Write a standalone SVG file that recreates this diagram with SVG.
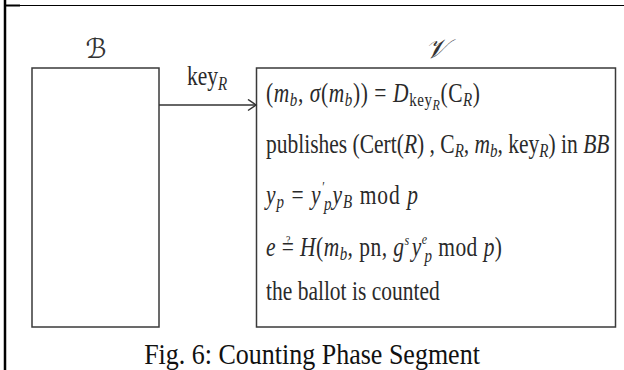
<svg xmlns="http://www.w3.org/2000/svg" width="624" height="370" viewBox="0 0 624 370">
<style>
.box{fill:#fff;stroke:#3a3a3a;stroke-width:1.5}
.t{font-family:"Liberation Serif","DejaVu Serif",serif;font-size:21.5px;fill:#2a2a2a}
.i{font-style:italic}
.s{font-size:15px}
.sp{font-size:12px}
.q{font-size:10px}
.ttl{font-family:"DejaVu Serif","DejaVu Sans",serif;font-size:27px;fill:#333;text-anchor:middle;font-style:italic}
.cap{font-family:"Liberation Serif",serif;font-size:26px;fill:#111;text-anchor:middle}
.frame{stroke:#000;fill:none}
</style>
<defs>
<marker id="arr" markerUnits="userSpaceOnUse" markerWidth="12" markerHeight="14" refX="9" refY="6" orient="auto">
<path d="M1,0.5 L9,6 L1,11.5" fill="none" stroke="#333" stroke-width="1.5"/>
</marker>
</defs>
<rect width="624" height="370" fill="#fff"/>
<g id="frame">
<line class="frame" x1="5" y1="0" x2="5" y2="370" stroke-width="2.5"/>
<line class="frame" x1="5" y1="5.5" x2="624" y2="5.5" stroke-width="1.2"/>
<line class="frame" x1="5" y1="5.5" x2="20" y2="5.5" stroke-width="2"/>
</g>
<g id="node-B">
<rect class="box" x="32" y="68" width="127" height="259"/>
<text class="ttl" x="96" y="58">ℬ</text>
</g>
<g id="node-V">
<rect class="box" x="256.5" y="68" width="359" height="259"/>
<text class="ttl" x="436" y="58">𝒱</text>
<text class="t" textLength="214" transform="matrix(1 0 0 1.25 266 102)">(<tspan class="i">m</tspan><tspan class="s i" dy="3.5">b</tspan><tspan dy="-3.5">, </tspan><tspan class="i">σ</tspan>(<tspan class="i">m</tspan><tspan class="s i" dy="3.5">b</tspan><tspan dy="-3.5">)) = </tspan><tspan class="i">D</tspan><tspan class="s" dy="3.5">key</tspan><tspan class="i" dy="2.5" style="font-size:12px">R</tspan><tspan dy="-6">(C</tspan><tspan class="s i" dy="3.5">R</tspan><tspan dy="-3.5">)</tspan></text>
<text class="t" transform="matrix(1 0 0 1.25 266 153)">publishes (Cert(<tspan class="i">R</tspan>) , C<tspan class="s i" dy="3.5">R</tspan><tspan dy="-3.5">, </tspan><tspan class="i">m</tspan><tspan class="s i" dy="3.5">b</tspan><tspan dy="-3.5">, key</tspan><tspan class="s i" dy="3.5">R</tspan><tspan dy="-3.5">) in </tspan><tspan class="i">BB</tspan></text>
<text class="t" textLength="152" transform="matrix(1 0 0 1.25 266 204)"><tspan class="i">y</tspan><tspan class="s i" dy="3.5">p</tspan><tspan dy="-3.5"> = </tspan><tspan class="i">y</tspan><tspan class="sp i" dy="-10">′</tspan><tspan class="s i" dx="-1" dy="14.5">p</tspan><tspan class="i" dy="-4.5">y</tspan><tspan class="s i" dy="3.5">B</tspan><tspan dy="-3.5"> mod </tspan><tspan class="i">p</tspan></text>
<text class="t" textLength="236" transform="matrix(1 0 0 1.25 266 256)"><tspan class="i">e</tspan> =<tspan class="q" dx="-8.5" dy="-10">?</tspan><tspan dx="3.5" dy="10"> </tspan><tspan class="i">H</tspan>(<tspan class="i">m</tspan><tspan class="s i" dy="3.5">b</tspan><tspan dy="-3.5">, pn, </tspan><tspan class="i">g</tspan><tspan class="sp i" dy="-9">s</tspan><tspan class="i" dx="2" dy="9">y</tspan><tspan class="sp i" dy="-10">e</tspan><tspan class="s i" dx="-3" dy="14.5">p</tspan><tspan dy="-4.5"> mod </tspan><tspan class="i">p</tspan>)</text>
<text class="t" transform="matrix(1 0 0 1.25 266 300)">the ballot is counted</text>
</g>
<g id="connectors">
<line x1="159" y1="105" x2="256" y2="105" stroke="#333" stroke-width="1.5" marker-end="url(#arr)"/>
<text class="t" transform="matrix(1 0 0 1.25 187 85)">key<tspan class="s i" dy="4">R</tspan></text>
</g>
<text class="cap" transform="matrix(1 0 0 1.12 312 364)">Fig. 6: Counting Phase Segment</text>
</svg>
